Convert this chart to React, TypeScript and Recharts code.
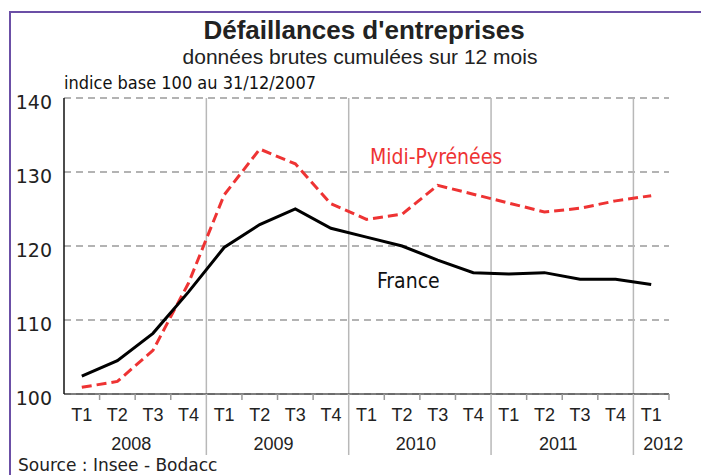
import React from 'react';
import { LineChart, Line, XAxis, YAxis, CartesianGrid, ReferenceLine } from 'recharts';

const quarters = ['T1', 'T2', 'T3', 'T4', 'T1', 'T2', 'T3', 'T4', 'T1', 'T2', 'T3', 'T4', 'T1', 'T2', 'T3', 'T4', 'T1'];
const years = ['2008', '2008', '2008', '2008', '2009', '2009', '2009', '2009', '2010', '2010', '2010', '2010', '2011', '2011', '2011', '2011', '2012'];
const france = [102.4, 104.5, 108.2, 113.8, 119.8, 122.9, 125.0, 122.4, 121.2, 120.0, 118.1, 116.4, 116.2, 116.4, 115.5, 115.5, 114.8];
const midiPyrenees = [100.9, 101.7, 105.9, 115.0, 126.9, 133.1, 131.1, 125.7, 123.6, 124.3, 128.2, 127.0, 125.8, 124.6, 125.1, 126.1, 126.8];
const yTicks = [100, 110, 120, 130, 140];

const data = quarters.map((q, i) => ({
  pos: i,
  quarter: q,
  france: france[i],
  midi: midiPyrenees[i],
}));

// groups of quarters per year, used for the year labels and dividers
const yearGroups = Array.from(new Set(years)).map((yr) => {
  const idx = years.map((v, i) => (v === yr ? i : -1)).filter((i) => i >= 0);
  const first = idx[0];
  const last = idx[idx.length - 1];
  return { year: yr, first, last, center: (first + last) / 2 };
});
const yearBounds = yearGroups.slice(1).map((g) => g.first - 0.5);
const xTicks: number[] = [];
quarters.forEach((_, i) => {
  xTicks.push(i);
  xTicks.push(i + 0.5);
});

const sansFont = '"Liberation Sans", Arial, sans-serif';
const verdanaFont = '"DejaVu Sans", Verdana, sans-serif';
const condFont = '"DejaVu Sans Condensed", "DejaVu Sans", sans-serif';

const XTick = (props: any) => {
  const { x, y, payload } = props;
  const v = payload.value;
  const parts: React.ReactNode[] = [];
  if (Number.isInteger(v)) {
    parts.push(
      <text key="q" x={x} y={y + 27} textAnchor="middle" fontFamily={sansFont} fontSize={18} fill="#222">
        {quarters[v]}
      </text>
    );
  } else if (yearBounds.includes(v)) {
    parts.push(<line key="d" x1={x} x2={x} y1={y} y2={y + 61} stroke="#b8b8b8" strokeWidth={1.5} />);
  } else {
    parts.push(<line key="t" x1={x} x2={x} y1={y} y2={y + 6} stroke="#9a9a9a" strokeWidth={1.5} />);
  }
  const g = yearGroups.find((gr) => gr.center === v);
  if (g) {
    const partial = g.last - g.first < 3;
    parts.push(
      <text key="y" x={x + (partial ? 12 : -4)} y={y + 56} textAnchor="middle" fontFamily={sansFont} fontSize={18} fill="#222">
        {g.year}
      </text>
    );
  }
  return <g>{parts}</g>;
};

const YTick = (props: any) => {
  const { x, y, payload } = props;
  return (
    <text x={x} y={y + 11} textAnchor="end" fontFamily={verdanaFont} fontSize={19} fill="#222">
      {payload.value}
    </text>
  );
};

const App: React.FC = () => {
  return (
    <div style={{ position: 'absolute', left: 0, top: 0, width: 701, height: 475, background: '#fff', overflow: 'hidden' }}>
      <LineChart width={701} height={475} data={data} margin={{ top: 98, right: 32, bottom: 11, left: 12 }}>
        <CartesianGrid horizontal vertical={false} stroke="#9a9a9a" strokeWidth={1.5} strokeDasharray="7 5" />
        {yearBounds.map((b) => (
          <ReferenceLine key={b} x={b} stroke="#b8b8b8" strokeWidth={1.5} />
        ))}
        <XAxis
          dataKey="pos"
          type="number"
          domain={[-0.5, quarters.length - 0.5]}
          ticks={xTicks}
          interval={0}
          height={70}
          tickSize={0}
          tickMargin={0}
          tickLine={false}
          axisLine={{ stroke: '#555', strokeWidth: 1.5 }}
          tick={<XTick />}
        />
        <YAxis
          domain={[100, 140]}
          ticks={yTicks}
          width={52}
          tickSize={0}
          tickMargin={12}
          tickLine={false}
          axisLine={{ stroke: '#111', strokeWidth: 1.5 }}
          tick={<YTick />}
        />
        <Line type="linear" dataKey="midi" stroke="#ee3333" strokeWidth={3} strokeDasharray="10 5" dot={false} isAnimationActive={false} />
        <Line type="linear" dataKey="france" stroke="#000" strokeWidth={3} dot={false} isAnimationActive={false} />
      </LineChart>
      <svg width={701} height={475} style={{ position: 'absolute', left: 0, top: 0, pointerEvents: 'none' }}>
        <rect x={10} y={12} width={800} height={600} fill="none" stroke="#6b4fa6" strokeWidth={2} />
        <text x={364} y={39} textAnchor="middle" fontFamily={sansFont} fontWeight="bold" fontSize={26} fill="#222">
          Défaillances d'entreprises
        </text>
        <text x={360} y={64} textAnchor="middle" fontFamily={sansFont} fontSize={21} fill="#222">
          données brutes cumulées sur 12 mois
        </text>
        <text x={64} y={89} fontFamily={condFont} fontSize={18} fill="#111">
          indice base 100 au 31/12/2007
        </text>
        <text x={370} y={164} fontFamily={condFont} fontSize={21} fill="#ee3333">
          Midi-Pyrénées
        </text>
        <text x={377} y={288} fontFamily={condFont} fontSize={21} fill="#111">
          France
        </text>
        <text x={18} y={471} fontFamily={verdanaFont} fontSize={17} fill="#222">
          Source : Insee - Bodacc
        </text>
      </svg>
    </div>
  );
};

export default App;
